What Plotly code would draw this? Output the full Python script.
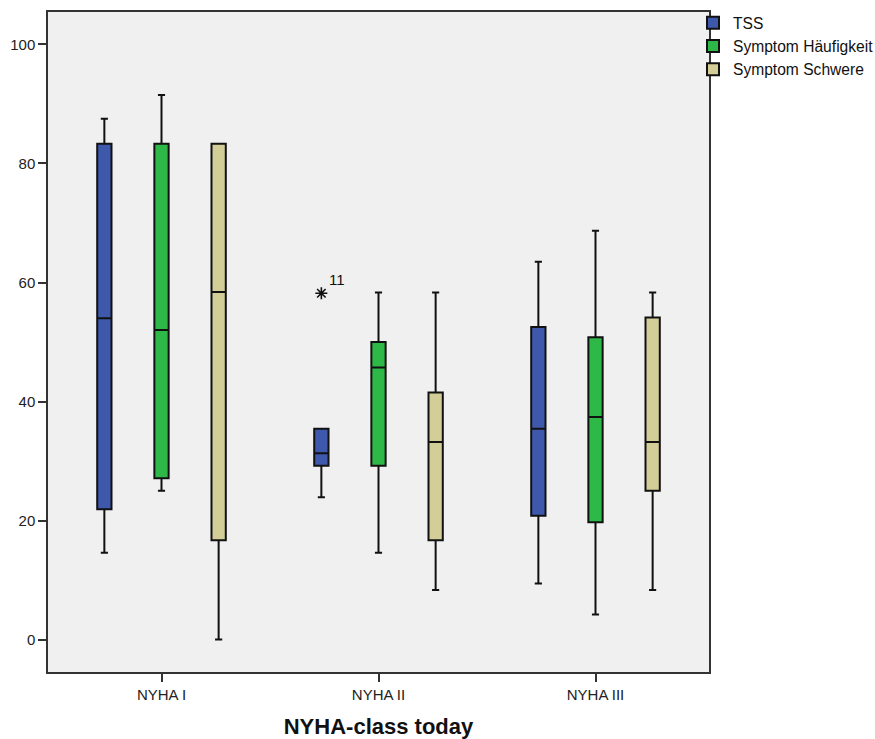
import plotly.graph_objects as go

categories = ["NYHA I", "NYHA II", "NYHA III"]
series_names = ["TSS", "Symptom Häufigkeit", "Symptom Schwere"]
series_colors = ["#3E58AC", "#2EB848", "#D3CE97"]

# precomputed box statistics per series (one value per NYHA class)
tss_low = [14.6, 23.9, 9.4]
tss_q1 = [21.9, 29.2, 20.8]
tss_med = [54.0, 31.3, 35.4]
tss_q3 = [83.3, 35.4, 52.5]
tss_high = [87.5, 35.4, 63.5]
tss_outliers = [[None], [58.2], [None]]
tss_outlier_labels = [[None], ["11"], [None]]

hf_low = [25.0, 14.6, 4.2]
hf_q1 = [27.1, 29.2, 19.7]
hf_med = [52.0, 45.7, 37.4]
hf_q3 = [83.3, 50.0, 50.8]
hf_high = [91.5, 58.3, 68.7]

sw_low = [0.0, 8.3, 8.3]
sw_q1 = [16.7, 16.7, 25.0]
sw_med = [58.4, 33.2, 33.2]
sw_q3 = [83.3, 41.5, 54.1]
sw_high = [83.3, 58.3, 58.3]

y_ticks = [0, 20, 40, 60, 80, 100]

FONT = "Liberation Sans, Arial, sans-serif"

fig = go.Figure()

stats = [
    (tss_low, tss_q1, tss_med, tss_q3, tss_high, tss_outliers),
    (hf_low, hf_q1, hf_med, hf_q3, hf_high, None),
    (sw_low, sw_q1, sw_med, sw_q3, sw_high, None),
]

for name, color, (lo, q1, med, q3, hi, outl) in zip(series_names, series_colors, stats):
    if outl is not None:
        kw = dict(y=outl, boxpoints="outliers", pointpos=0, jitter=0,
                  marker=dict(symbol="asterisk-open", size=10, color="#111",
                              line=dict(color="#111", width=1.6)))
    else:
        kw = dict(boxpoints=False)
    fig.add_trace(go.Box(
        name=name,
        orientation="v",
        x=categories,
        q1=q1, median=med, q3=q3,
        lowerfence=lo, upperfence=hi,
        fillcolor=color,
        line=dict(color="#111", width=2),
        whiskerwidth=0.5,
        hoverinfo="skip",
        **kw,
    ))

# label for the outlier point
for cat, vals, labs in zip(categories, tss_outliers, tss_outlier_labels):
    for v, lab in zip(vals, labs):
        if v is None:
            continue
        fig.add_annotation(x=cat, y=v, text=lab, showarrow=False,
                           xshift=-56 + 14, yshift=14,
                           font=dict(family=FONT, size=15, color="#111"))

fig.update_layout(
    width=875, height=739,
    margin=dict(l=48, r=166, t=12, b=67, autoexpand=False),
    paper_bgcolor="white",
    plot_bgcolor="#F0F0F0",
    boxmode="group",
    boxgap=0.21,
    boxgroupgap=0.75,
    font=dict(family=FONT, size=15, color="#222"),
    showlegend=True,
    legend=dict(
        xref="container", yref="container",
        x=693 / 875, y=1 - 6 / 739,
        xanchor="left", yanchor="top",
        bgcolor="rgba(0,0,0,0)",
        font=dict(family=FONT, size=15.6, color="#111"),
        tracegroupgap=0,
    ),
    xaxis=dict(
        type="category",
        showline=True, linecolor="#333", linewidth=1.5, mirror=True,
        ticks="outside", ticklen=8, tickwidth=1.5, tickcolor="#333",
        tickfont=dict(family=FONT, size=15, color="#222"),
        showgrid=False, zeroline=False,
        title=dict(text="<b>NYHA-class today</b>",
                   font=dict(family=FONT, size=22, color="#111"),
                   standoff=20),
    ),
    yaxis=dict(
        range=[-5.46, 105.46],
        tickvals=y_ticks,
        showline=True, linecolor="#333", linewidth=1.5, mirror=True,
        ticks="outside", ticklen=8, tickwidth=1.5, tickcolor="#333",
        tickfont=dict(family=FONT, size=15, color="#222"),
        showgrid=False, zeroline=False,
    ),
)

fig.write_html("out.html")
